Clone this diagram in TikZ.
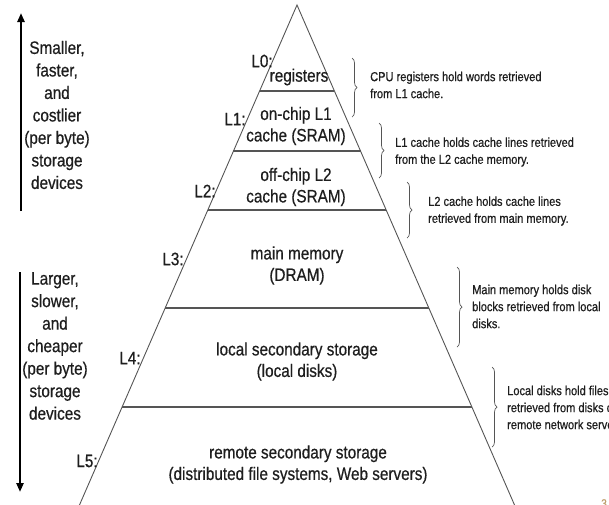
\documentclass[tikz,border=0pt]{standalone}
\usepackage{fontspec}
\setmainfont[FakeStretch=0.85,FakeBold=0.6]{Liberation Sans}
\usetikzlibrary{arrows.meta,calc,decorations.pathreplacing}
\definecolor{ink}{HTML}{1E1E1E}
\definecolor{edge}{HTML}{555555}
\definecolor{pgnum}{HTML}{C0A070}
\begin{document}
\begin{tikzpicture}[x=1pt,y=-1pt,
  big/.style={font=\fontsize{18}{21.5}\selectfont, text=ink, align=center, inner sep=0pt},
  side/.style={font=\fontsize{18}{22.5}\selectfont, text=ink, align=center, inner sep=0pt},
  lvl/.style={font=\fontsize{18}{21.5}\selectfont, text=ink, inner sep=0pt},
  note/.style={font=\fontsize{13}{17}\selectfont, text=ink, align=left, anchor=west, inner sep=0pt},
  tier/.style={draw=edge, line width=1.1pt},
  pedge/.style={draw=edge, line width=0.9pt},
  brc/.style={draw=edge, line width=0.7pt, decorate, decoration={brace, amplitude=5pt}},
  bigarrow/.style={draw=black, line width=2.2pt, -{Triangle[length=9pt,width=7pt]}}
]
\useasboundingbox (0,0) rectangle (609,504);
\clip (0,0) rectangle (609,504);

% pyramid
\coordinate (A) at (297,5);
\coordinate (BL) at (77.3,510);
\coordinate (BR) at (516.7,510);
\draw[pedge] (BL) -- (A) -- (BR);
\foreach \n/\yy in {a/91,b/151,c/210,d/308,e/407}{
  \coordinate (\n L) at ($(A)!{(\yy-5)/505}!(BL)$);
  \coordinate (\n R) at ($(A)!{(\yy-5)/505}!(BR)$);
  \draw[tier] (\n L) -- (\n R);
}

% level texts
\node[big] (t0) at (299,77) {registers};
\node[big] (t1) at (296,126) {on-chip L1\\cache (SRAM)};
\node[big] (t2) at (296,187) {off-chip L2\\cache (SRAM)};
\node[big] (t3) at (297,265.5) {main memory\\(DRAM)};
\node[big] (t4) at (297,361.5) {local secondary storage\\(local disks)};
\node[big] (t5) at (298,464.5) {remote secondary storage\\(distributed file systems, Web servers)};

% level labels
\node[lvl] (l0) at (262,61) {L0:};
\node[lvl] (l1) at (235,119) {L1:};
\node[lvl] (l2) at (205,191) {L2:};
\node[lvl] (l3) at (173,259) {L3:};
\node[lvl] (l4) at (130,358) {L4:};
\node[lvl] (l5) at (87,461) {L5:};

% left side
\coordinate (upS) at (21,211);
\coordinate (upE) at (21,13);
\draw[bigarrow] (upS) -- (upE);
\coordinate (dnS) at (20,272);
\coordinate (dnE) at (20,492);
\draw[bigarrow] (dnS) -- (dnE);
\node[side] (s1) at (57,115) {Smaller,\\faster,\\and\\costlier\\(per byte)\\storage\\devices};
\node[side] (s2) at (55,346) {Larger,\\slower,\\and\\cheaper\\(per byte)\\storage\\devices};

% braces
\coordinate (b1t) at (352,58);  \coordinate (b1b) at (352,117);
\coordinate (b2t) at (379,123); \coordinate (b2b) at (379,178);
\coordinate (b3t) at (407,182); \coordinate (b3b) at (407,238);
\coordinate (b4t) at (457,267); \coordinate (b4b) at (457,347);
\coordinate (b5t) at (492,367); \coordinate (b5b) at (492,447);
\foreach \b in {b1,b2,b3,b4,b5}{ \draw[brc] (\b t) -- (\b b); }

\node[note] (n1) at (370,85) {CPU registers hold words retrieved\\from L1 cache.};
\node[note] (n2) at (395,152) {L1 cache holds cache lines retrieved\\from the L2 cache memory.};
\node[note] (n3) at (428,211) {L2 cache holds cache lines\\retrieved from main memory.};
\node[note] (n4) at (472,306.5) {Main memory holds disk\\blocks retrieved from local\\disks.};
\node[note] (n5) at (507,407.5) {Local disks hold files\\retrieved from disks on\\remote network servers.};

\node[font=\fontsize{12}{12}\selectfont, text=pgnum, anchor=north west, inner sep=0pt] (pg) at (601,499) {3};
\end{tikzpicture}
\end{document}
